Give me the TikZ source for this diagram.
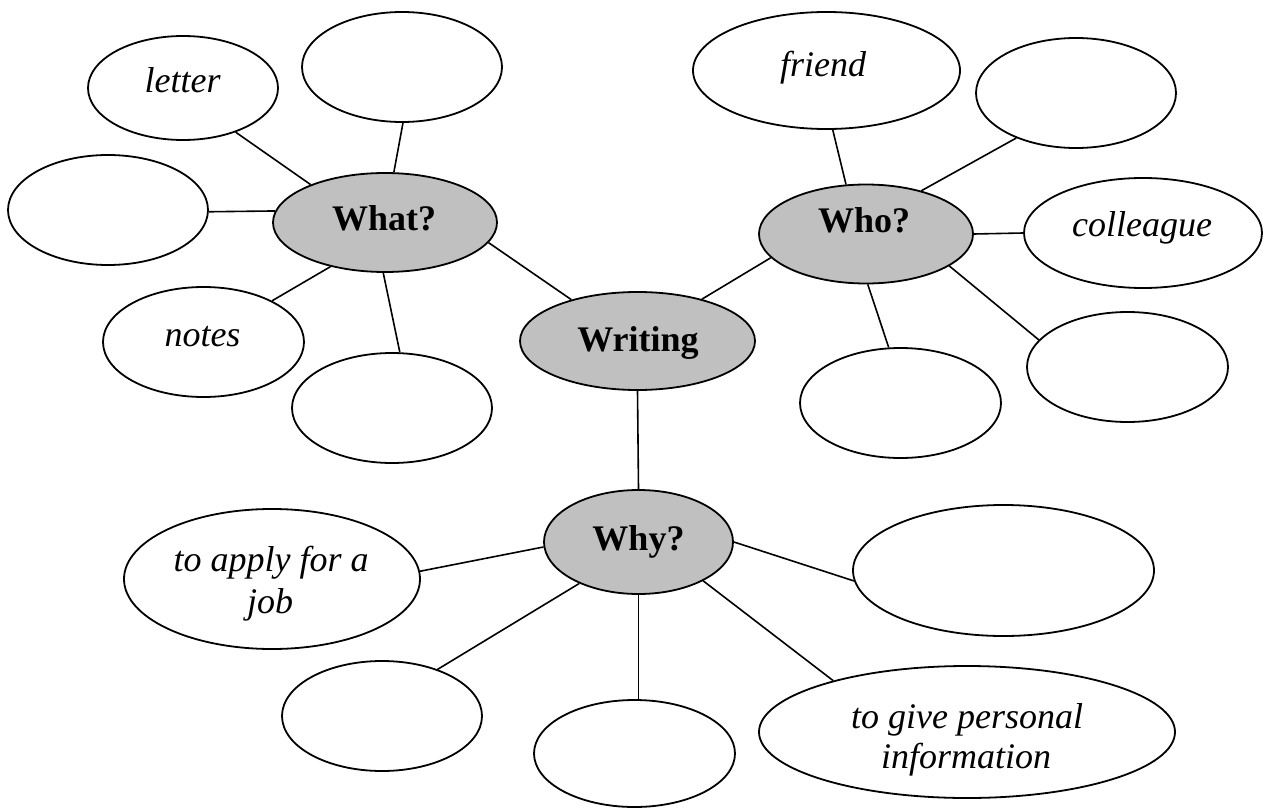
\documentclass[tikz,border=0pt]{standalone}
\usepackage{fontspec}
\setmainfont{Liberation Serif}
\usetikzlibrary{shapes.geometric}
\definecolor{hubgray}{RGB}{192,192,192}
\tikzset{
  el/.style={ellipse, draw=black, line width=0.9pt, fill=white, inner sep=0pt},
  hub/.style={el, fill=hubgray},
  lbl/.style={anchor=base, inner sep=0pt, font=\fontsize{18pt}{20.5pt}\selectfont\itshape},
  hublbl/.style={anchor=base, inner sep=0pt, font=\fontsize{18pt}{20.5pt}\selectfont\bfseries},
  conn/.style={draw=black, line width=0.8pt}
}
% name, cx, cy, rx, ry  (pixel units; min width = 2rx px = rx pt)
\newcommand\blob[6][el]{\node[#1, minimum width=#5pt, minimum height=#6pt] (#2) at (#3,#4) {};}
\begin{document}
\begin{tikzpicture}[x=0.5pt, y=-0.5pt]
\useasboundingbox (0,0) rectangle (1263,808);
% What cluster
\blob{letter}{183}{88}{95}{52}
\blob{wtop}{402}{67}{100}{55}
\blob{wleft}{108}{210}{100}{55}
\blob[hub]{What}{385}{222.5}{112}{49.5}
\blob{notes}{203.5}{342}{100.5}{55}
\blob{wbot}{392}{408}{100}{55}
% center
\blob[hub]{Writing}{637.5}{341}{117.5}{49}
% Who cluster
\blob{friend}{826.5}{70.5}{133.5}{58.5}
\blob[hub]{Who}{866}{234}{107}{49.5}
\blob{htr}{1076}{93}{100}{55}
\blob{colleague}{1143}{233}{119}{55}
\blob{hbot}{900.5}{403}{100.5}{55}
\blob{hrl}{1127.5}{367}{100.5}{55}
% Why cluster
\blob[hub]{Why}{638.5}{542}{94.5}{52}
\blob{apply}{272}{579}{148}{70}
\blob{yright}{1003.5}{570.5}{150.5}{65.5}
\blob{yll}{382}{716}{100}{55}
\blob{ybot}{634.5}{753.5}{100.5}{53.5}
\blob{give}{967}{732}{208}{66}

% connectors
\draw[conn] (letter.-40) -- (What.153.1);
\draw[conn] (wtop.-89) -- (What.80.8);
\draw[conn] (wleft.-1.1) -- (What.174.4);
\draw[conn] (notes.31.2) -- (What.-141.1);
\draw[conn] (wbot.82.7) -- (What.-92.3);
\draw[conn] (What.-11.3) -- (Writing.148.5);
\draw[conn] (Writing.33.7) -- (Who.-166.9);
\draw[conn] (friend.-84.7) -- (Who.112);
\draw[conn] (htr.-143) -- (Who.38.9);
\draw[conn] (colleague.west) -- (Who.east);
\draw[conn] (hbot.102) -- (Who.-88.9);
\draw[conn] (hrl.163.8) -- (Who.-21.3);
\draw[conn] (Writing.south) -- (Why.north);
\draw[conn] (apply.3.1) -- (Why.-177.6);
\draw[conn] (yright.-176.7) -- (Why.-0.6);
\draw[conn] (yll.40.5) -- (Why.-145.9);
\draw[conn] (Why.south) -- (Why.south |- ybot.north);
\draw[conn] (give.159.2) -- (Why.-31.7);

% texts
\node[hublbl] (tWhat) at (384,230.5) {What?};
\node[hublbl] (tWriting) at (638,351) {Writing};
\node[hublbl] (tWho) at (864,232) {Who?};
\node[hublbl] (tWhy) at (638.5,550) {Why?};
\node[lbl] (tletter) at (182.5,93) {letter};
\node[lbl] (tfriend) at (823,76) {friend};
\node[lbl] (tcolleague) at (1142,236) {colleague};
\node[lbl] (tnotes) at (202.5,346) {notes};
\node[lbl] (tapplya) at (271,571) {to apply for a};
\node[lbl] (tapplyb) at (270,613) {job};
\node[lbl] (tgivea) at (967,728) {to give personal};
\node[lbl] (tgiveb) at (966,768) {information};
\end{tikzpicture}
\end{document}
